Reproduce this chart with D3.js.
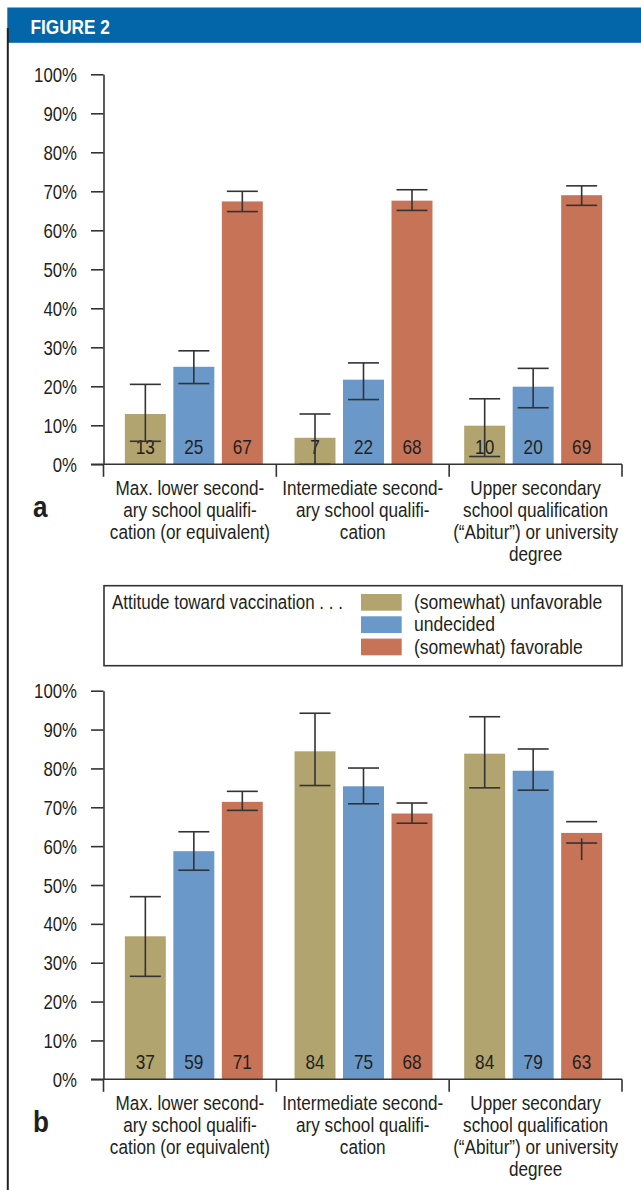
<!DOCTYPE html>
<html>
<head>
<meta charset="utf-8">
<script src="https://cdn.jsdelivr.net/npm/d3@7"></script>
<style>
  body { margin: 0; background: #fff; }
  svg text { font-family: "Liberation Sans Narrow", "Arial Narrow", "Liberation Sans", sans-serif; fill: #231f20; }
</style>
</head>
<body>
<div id="chart"></div>
<script>
// categories (education level), drawn as wrapped lines under each group
var categories = ["lower", "intermediate", "upper"];
var categoryLines = [
  ["Max. lower second-", "ary school qualifi-", "cation (or equivalent)"],
  ["Intermediate second-", "ary school qualifi-", "cation"],
  ["Upper secondary", "school qualification", "(\u201CAbitur\u201D) or university", "degree"]
];
var series = ["(somewhat) unfavorable", "undecided", "(somewhat) favorable"];
var colors = ["#b1a46e", "#6a98c9", "#c77358"];
var yTicks = [0, 10, 20, 30, 40, 50, 60, 70, 80, 90, 100];

// panel a : one row per category, one value per series (percent)
var valuesA = [[12.9, 25.0, 67.4], [6.8, 21.7, 67.6], [9.9, 19.9, 69.0]];
var lowA    = [[5.9, 20.7, 64.8], [0.0, 16.6, 65.1], [2.0, 14.5, 66.4]];
var highA   = [[20.5, 29.1, 70.0], [12.9, 26.0, 70.4], [16.8, 24.6, 71.4]];

// panel b
var valuesB = [[36.8, 58.7, 71.4], [84.4, 75.4, 68.4], [83.8, 79.4, 63.4]];
var lowB    = [[26.5, 53.8, 69.2], [75.6, 70.9, 65.9], [75.0, 74.4, 60.8]];
var highB   = [[47.0, 63.7, 74.1], [94.2, 80.1, 71.1], [93.3, 85.0, 66.3]];
// the vertical stem of the last error bar is drawn off its caps in the original
var stemLowB  = [[26.5, 53.8, 69.2], [75.6, 70.9, 65.9], [75.0, 74.4, 56.4]];
var stemHighB = [[47.0, 63.7, 74.1], [94.2, 80.1, 71.1], [93.3, 85.0, 62.0]];

var W = 641, H = 1190;
var axisColor = "#333";

// no narrow font installed: squeeze the text horizontally instead
function condense(sel, k) {
  sel.each(function() {
    var t = d3.select(this);
    var x = +t.attr("x") || 0, y = +t.attr("y") || 0;
    t.attr("x", 0).attr("y", 0)
     .attr("transform", "translate(" + x + "," + y + ") scale(" + k + ",1)");
    t.selectAll("tspan").attr("x", 0);
  });
}

var svg = d3.select("#chart")
  .append("svg")
    .attr("width", W)
    .attr("height", H);

// left rule + header band
svg.append("rect")
    .attr("x", 7.3).attr("y", 7.5)
    .attr("width", W - 7.3).attr("height", 35.3)
    .attr("fill", "#0366a8");
svg.append("line")
    .attr("x1", 7.8).attr("x2", 7.8)
    .attr("y1", 28).attr("y2", H)
    .attr("stroke", "#222").attr("stroke-width", 2);
svg.append("text")
    .attr("x", 30.5).attr("y", 33.5)
    .style("font-size", "21px")
    .style("font-weight", "bold")
    .style("fill", "#fff")
    .text("FIGURE 2")
    .call(condense, 0.82);

// x scales shared by both panels
var xGroup = d3.scaleBand()
    .domain(categories)
    .range([103.5, 622]);
var xBarGroup = d3.scaleBand()
    .domain(categories)
    .range([109, 618]);
var xBar = d3.scaleBand()
    .domain(series)
    .range([0, xBarGroup.bandwidth()])
    .paddingInner(0.155)
    .paddingOuter(0.327);

function drawPanel(top, bottom, letter, values, low, high, stemLow, stemHigh) {
  var y = d3.scaleLinear()
      .domain([0, 100])
      .range([bottom, top]);

  var rows = [];
  categories.forEach(function(c, i) {
    series.forEach(function(s, j) {
      rows.push({
        cat: c, s: s, j: j, v: values[i][j], lo: low[i][j], hi: high[i][j],
        slo: stemLow ? stemLow[i][j] : low[i][j],
        shi: stemHigh ? stemHigh[i][j] : high[i][j]
      });
    });
  });

  var g = svg.append("g");

  // bars
  g.selectAll("rect.bar")
    .data(rows)
    .enter()
    .append("rect")
      .attr("class", "bar")
      .attr("x", function(d) { return xBarGroup(d.cat) + xBar(d.s); })
      .attr("width", xBar.bandwidth())
      .attr("y", function(d) { return y(d.v); })
      .attr("height", function(d) { return y(0) - y(d.v); })
      .attr("fill", function(d) { return colors[d.j]; });

  // value labels inside bars
  g.selectAll("text.val")
    .data(rows)
    .enter()
    .append("text")
      .attr("class", "val")
      .attr("x", function(d) { return xBarGroup(d.cat) + xBar(d.s) + xBar.bandwidth() / 2; })
      .attr("y", y(0) - 10)
      .attr("text-anchor", "middle")
      .style("font-size", "21px")
      .text(function(d) { return Math.round(d.v); })
      .call(condense, 0.82);

  // error bars
  var eb = g.selectAll("g.err")
    .data(rows)
    .enter()
    .append("g")
      .attr("class", "err")
      .attr("transform", function(d) {
        return "translate(" + (xBarGroup(d.cat) + xBar(d.s) + xBar.bandwidth() / 2) + ",0)";
      })
      .attr("stroke", axisColor)
      .attr("stroke-width", 1.6);
  eb.append("line")
      .attr("y1", function(d) { return y(d.slo); })
      .attr("y2", function(d) { return y(d.shi); });
  eb.append("line")
      .attr("x1", -15.5).attr("x2", 15.5)
      .attr("y1", function(d) { return y(d.hi); })
      .attr("y2", function(d) { return y(d.hi); });
  eb.append("line")
      .attr("x1", -15.5).attr("x2", 15.5)
      .attr("y1", function(d) { return y(d.lo); })
      .attr("y2", function(d) { return y(d.lo); });

  // y axis
  var yAxis = g.append("g")
      .attr("transform", "translate(103.5,0)")
      .style("color", axisColor)
      .call(d3.axisLeft(y)
        .tickValues(yTicks)
        .tickFormat(function(d) { return d + "%"; })
        .tickSize(12.5)
        .tickSizeOuter(0)
        .tickPadding(14));
  yAxis.selectAll("path, line").attr("stroke-width", 1.6);
  yAxis.selectAll("text")
      .style("font-size", "20px")
      .style("fill", "#231f20")
      .attr("dy", "0.35em")
      .call(condense, 0.84);

  // x axis line and group separators
  g.append("line")
      .attr("x1", 91).attr("x2", xGroup.range()[1])
      .attr("y1", y(0)).attr("y2", y(0))
      .attr("stroke", axisColor).attr("stroke-width", 1.6);
  var seps = categories.map(function(c) { return xGroup(c); }).concat([xGroup.range()[1]]);
  g.selectAll("line.sep")
    .data(seps)
    .enter()
    .append("line")
      .attr("class", "sep")
      .attr("x1", function(d) { return d; }).attr("x2", function(d) { return d; })
      .attr("y1", y(0)).attr("y2", y(0) + 12.5)
      .attr("stroke", axisColor).attr("stroke-width", 1.6);

  // category labels
  var cl = g.selectAll("text.cat")
    .data(categories)
    .enter()
    .append("text")
      .attr("class", "cat")
      .attr("text-anchor", "middle")
      .attr("x", function(c) { return xGroup(c) + xGroup.bandwidth() / 2; })
      .attr("y", y(0) + 31)
      .style("font-size", "19.5px");
  cl.selectAll("tspan")
    .data(function(c, i) { return categoryLines[i]; })
    .enter()
    .append("tspan")
      .attr("dy", function(d, k) { return k === 0 ? 0 : 21.8; })
      .text(function(d) { return d; });
  cl.call(condense, 0.88);

  // panel letter
  g.append("text")
      .attr("x", 33)
      .attr("y", y(0) + 52.5)
      .style("font-size", "29px")
      .style("font-weight", "bold")
      .text(letter)
      .call(condense, 0.9);
}

drawPanel(74.3, 464.3, "a", valuesA, lowA, highA);
drawPanel(690.7, 1079.3, "b", valuesB, lowB, highB, stemLowB, stemHighB);

// legend
var legend = svg.append("g");
legend.append("rect")
    .attr("x", 104).attr("y", 585.7)
    .attr("width", 518).attr("height", 80)
    .attr("fill", "none")
    .attr("stroke", axisColor).attr("stroke-width", 1.6);
legend.append("text")
    .attr("x", 112).attr("y", 609)
    .style("font-size", "19.5px")
    .text("Attitude toward vaccination . . .")
    .call(condense, 0.87);
var li = legend.selectAll("g.item")
  .data(series)
  .enter()
  .append("g")
    .attr("class", "item")
    .attr("transform", function(d, i) { return "translate(361," + (594 + i * 22.3) + ")"; });
li.append("rect")
    .attr("width", 40.7).attr("height", 16.7)
    .attr("fill", function(d, i) { return colors[i]; });
li.append("text")
    .attr("x", 53).attr("y", 15)
    .style("font-size", "19.5px")
    .text(function(d) { return d; })
    .call(condense, 0.9);
</script>
</body>
</html>
